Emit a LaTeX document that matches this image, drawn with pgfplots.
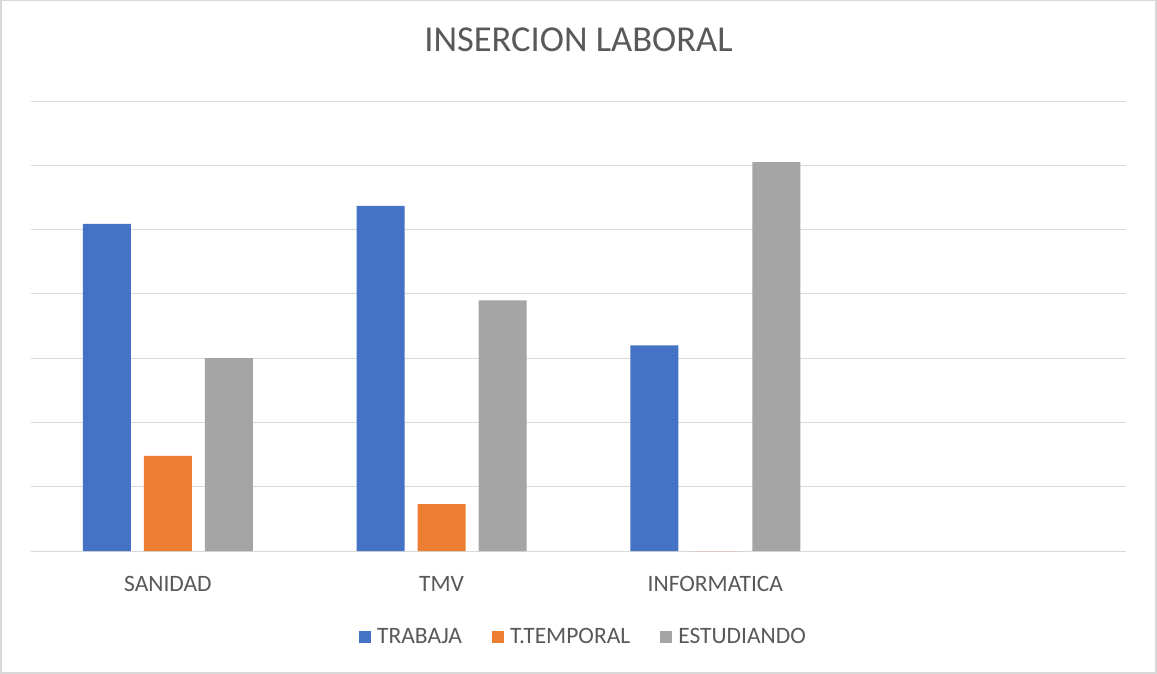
\documentclass[border=0pt]{standalone}
\usepackage{pgfplots}
\pgfplotsset{compat=1.18}
\usepackage{fontspec}
\setmainfont{Carlito}
\definecolor{cblue}{HTML}{4472C4}
\definecolor{corange}{HTML}{ED7D31}
\definecolor{cgray}{HTML}{A5A5A5}
\definecolor{ctext}{HTML}{595959}
\definecolor{cgrid}{HTML}{D9D9D9}
\begin{document}
\begin{tikzpicture}[x=1pt,y=1pt]
\useasboundingbox (0,0) rectangle (1157,-674);
\fill[white] (0,0) rectangle (1157,-674);
\draw[cgrid, line width=1.5pt] (1,-0.75) rectangle (1156,-673);
\begin{axis}[
  at={(31pt,-551pt)}, anchor=south west,
  scale only axis, width=1095pt, height=450pt,
  xmin=-0.5, xmax=3.5, ymin=0, ymax=7,
  ybar=13pt, bar width=48pt,
  xtick={0,1,2}, xticklabels={SANIDAD,TMV,INFORMATICA},
  ytick={0,1,2,3,4,5,6,7}, yticklabels={},
  ymajorgrids, grid style={cgrid, line width=1pt},
  axis line style={draw=none},
  major tick length=0pt,
  xticklabel style={anchor=base, yshift=-40pt, font=\fontsize{23.5}{28}\selectfont, text=ctext},
  title={INSERCION LABORAL},
  title style={at={(0.5,1)}, anchor=base, yshift=44pt, font=\fontsize{36.5}{42}\selectfont, text=ctext},
  legend columns=3,
  legend style={at={(0.5,0)}, anchor=center, xshift=4pt, yshift=-86pt, draw=none, fill=none,
    font=\fontsize{23.5}{28}\selectfont, text=ctext,
    nodes={inner xsep=0pt},
    /tikz/every odd column/.append style={column sep=6pt},
    /tikz/every even column/.append style={column sep=30pt}},
  legend image code/.code={\fill[#1] (0pt,-6pt) rectangle (12pt,6pt);},
]
\addplot[fill=cblue, draw=none] coordinates {(0,5.09) (1,5.37) (2,3.2)};
\addplot[fill=corange, draw=none] coordinates {(0,1.48) (1,0.73) (2,0)};
\addplot[fill=cgray, draw=none] coordinates {(0,3.0) (1,3.9) (2,6.05)};
\legend{TRABAJA,T.TEMPORAL,ESTUDIANDO}
\end{axis}
\end{tikzpicture}
\end{document}
